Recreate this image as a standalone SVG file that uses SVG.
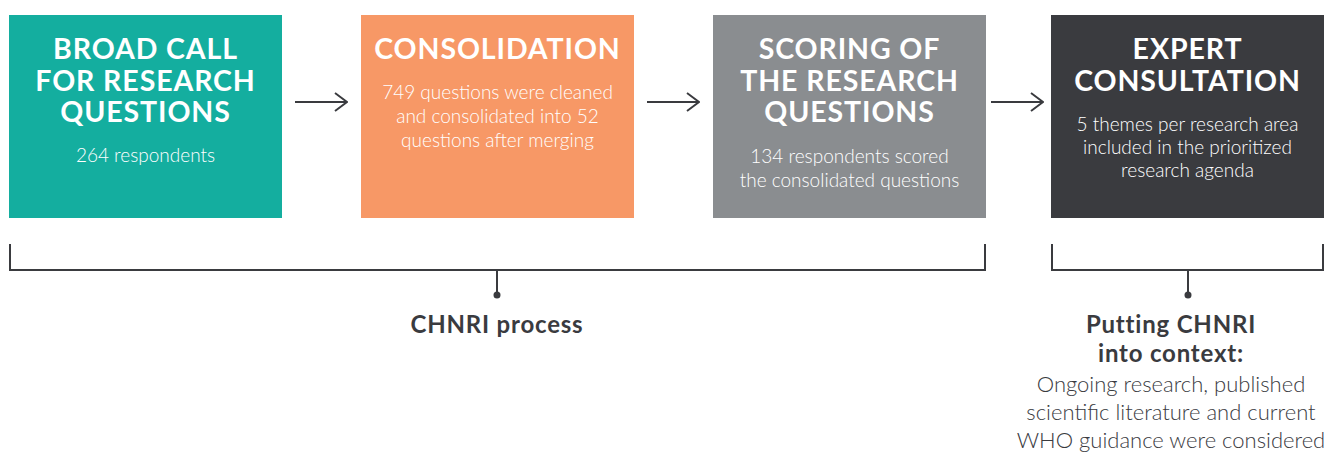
<svg xmlns="http://www.w3.org/2000/svg" width="1324" height="455" viewBox="0 0 1324 455">
<defs>
<style>
.title{font-family:Lato,"Liberation Sans",sans-serif;font-weight:700;font-size:28.5px;fill:#fff;text-anchor:middle;letter-spacing:0.9px}
.body{font-family:Lato,"Liberation Sans",sans-serif;font-weight:300;font-size:19px;fill:#fff;text-anchor:middle}
.line{stroke:#3a3b3f;stroke-width:2;fill:none}
.lbl{font-family:Lato,"Liberation Sans",sans-serif;font-weight:700;font-size:24px;fill:#3a3b3f;text-anchor:middle;letter-spacing:0.8px}
.lt{font-family:Lato,"Liberation Sans",sans-serif;font-weight:300;font-size:22px;fill:#3a3b3f;text-anchor:middle}
</style>
<marker id="chev" viewBox="0 0 14 20" refX="13" refY="10" markerWidth="14" markerHeight="20" markerUnits="userSpaceOnUse" orient="auto">
<path d="M1,1 L13,10 L1,19" fill="none" stroke="#3a3b3f" stroke-width="2"/>
</marker>
</defs>
<rect width="1324" height="455" fill="#fff"/>
<g id="broad-call">
<rect x="9" y="15" width="273" height="203" fill="#14ae9f"/>
<text class="title" x="145.5" y="59">BROAD CALL</text>
<text class="title" x="145.5" y="91">FOR RESEARCH</text>
<text class="title" x="145.5" y="122">QUESTIONS</text>
<text class="body" x="145.5" y="162">264 respondents</text>
</g>
<g id="consolidation">
<rect x="361" y="15" width="273" height="203" fill="#f79866"/>
<text class="title" x="497.5" y="59">CONSOLIDATION</text>
<text class="body" x="497.5" y="99">749 questions were cleaned</text>
<text class="body" x="497.5" y="123">and consolidated into 52</text>
<text class="body" x="497.5" y="147">questions after merging</text>
</g>
<g id="scoring">
<rect x="713" y="15" width="273" height="203" fill="#8a8d90"/>
<text class="title" x="849.5" y="59">SCORING OF</text>
<text class="title" x="849.5" y="91">THE RESEARCH</text>
<text class="title" x="849.5" y="122">QUESTIONS</text>
<text class="body" x="849.5" y="163">134 respondents scored</text>
<text class="body" x="849.5" y="187">the consolidated questions</text>
</g>
<g id="expert">
<rect x="1051" y="15" width="273" height="203" fill="#3a3b3f"/>
<text class="title" x="1187.5" y="59">EXPERT</text>
<text class="title" x="1187.5" y="91">CONSULTATION</text>
<text class="body" x="1187.5" y="131">5 themes per research area</text>
<text class="body" x="1187.5" y="154">included in the prioritized</text>
<text class="body" x="1187.5" y="177">research agenda</text>
</g>
<g id="connectors">
<line class="line" x1="295" y1="102" x2="347" y2="102" marker-end="url(#chev)"/>
<line class="line" x1="647" y1="102" x2="699" y2="102" marker-end="url(#chev)"/>
<line class="line" x1="991" y1="102" x2="1043" y2="102" marker-end="url(#chev)"/>
<path class="line" d="M10,244 V270 H985 V244"/>
<line class="line" x1="497" y1="270" x2="497" y2="294"/>
<circle cx="497" cy="295" r="3.5" fill="#3a3b3f"/>
<path class="line" d="M1052,244 V270 H1323 V244"/>
<line class="line" x1="1188" y1="270" x2="1188" y2="294"/>
<circle cx="1188" cy="295" r="3.5" fill="#3a3b3f"/>
</g>
<g id="chnri-label">
<text class="lbl" x="497" y="333">CHNRI process</text>
</g>
<g id="context-label">
<text class="lbl" x="1171" y="333">Putting CHNRI</text>
<text class="lbl" x="1171" y="362">into context:</text>
<text class="lt" x="1171" y="392">Ongoing research, published</text>
<text class="lt" x="1171" y="420">scientific literature and current</text>
<text class="lt" x="1171" y="448">WHO guidance were considered</text>
</g>
</svg>
